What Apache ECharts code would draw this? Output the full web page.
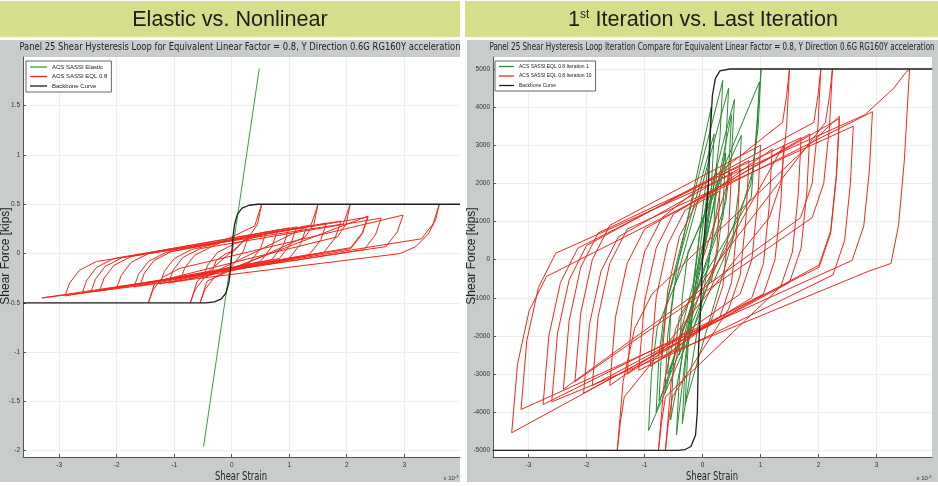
<!DOCTYPE html>
<html>
<head>
<meta charset="utf-8">
<script src="https://cdn.jsdelivr.net/npm/echarts@6.0.0/dist/echarts.min.js"></script>
<style>
  html, body { margin: 0; padding: 0; background: #fff; }
  #main { width: 938px; height: 486px; }
</style>
</head>
<body>
<div id="main"></div>
<script>
// ---- ticks ----
var xTicks = [-3, -2, -1, 0, 1, 2, 3];
var yTicksLeft = [-2, -1.5, -1, -0.5, 0, 0.5, 1, 1.5];
var yTicksRight = [-5000, -4000, -3000, -2000, -1000, 0, 1000, 2000, 3000, 4000, 5000];

// ---- left chart: elastic vs nonlinear (strain x10^-3, force) ----
var leftElastic = [[-0.49, -1.96], [0.48, 1.88]];

var leftEql = [
  [0, 0], [0.3, 0.19],
  [0.2, 0.02], [0.0, -0.13], [-0.5, -0.25],
  [-0.42, -0.12], [-0.25, 0.01], [0.05, 0.1], [0.8, 0.24],
  [0.7, 0.07], [0.5, -0.08], [-0.9, -0.28],
  [-0.82, -0.15], [-0.65, -0.02], [-0.35, 0.07], [0.4, 0.28], [0.52, 0.5],
  [0.45, 0.3], [0.3, 0.17], [-0.6, -0.28], [-0.72, -0.5],
  [-0.64, -0.37], [-0.47, -0.24], [-0.17, -0.15], [1.3, 0.27],
  [1.2, 0.1], [1.0, -0.05], [-1.6, -0.33],
  [-1.52, -0.2], [-1.35, -0.07], [-1.05, 0.02], [1.65, 0.31],
  [1.55, 0.14], [1.35, -0.01], [-2.0, -0.35],
  [-1.92, -0.22], [-1.75, -0.09], [-1.45, 0.0], [2.37, 0.37],
  [2.27, 0.2], [2.07, 0.05], [-2.6, -0.4],
  [-2.52, -0.27], [-2.35, -0.14], [-2.05, -0.05], [1.13, 0.27],
  [1.03, 0.1], [0.83, -0.05], [-1.33, -0.28], [-1.45, -0.5],
  [-1.37, -0.37], [-1.2, -0.24], [-0.9, -0.15], [2.98, 0.39],
  [2.88, 0.22], [2.68, 0.07], [-3.3, -0.45],
  [2.93, 0.0], [3.2, 0.07], [3.42, 0.2], [3.55, 0.35], [3.61, 0.5],
  [3.5, 0.3], [3.3, 0.15], [-2.9, -0.43],
  [-2.82, -0.3], [-2.65, -0.17], [-2.35, -0.08], [1.94, 0.3], [2.06, 0.5],
  [1.99, 0.3], [1.84, 0.17], [-1.7, -0.34],
  [-1.62, -0.21], [-1.45, -0.08], [-1.15, 0.01], [1.38, 0.29], [1.5, 0.5],
  [1.43, 0.3], [1.28, 0.17], [-0.43, -0.28], [-0.55, -0.5],
  [-0.47, -0.37], [-0.3, -0.24], [0.0, -0.15], [2.37, 0.38],
  [2.27, 0.21], [2.07, 0.06], [-2.3, -0.38],
  [-2.22, -0.25], [-2.05, -0.12], [-1.75, -0.03], [1.9, 0.33],
  [1.8, 0.16], [1.6, 0.01], [-1.1, -0.3],
  [-1.02, -0.17], [-0.85, -0.04], [-0.55, 0.05], [2.6, 0.36],
  [2.5, 0.19], [2.3, 0.04], [-2.45, -0.39],
  [-2.37, -0.26], [-2.2, -0.13], [-1.9, -0.04], [1.0, 0.26],
  [0.9, 0.09], [0.7, -0.06], [-1.25, -0.31],
  [-1.17, -0.18], [-1.0, -0.05], [-0.7, 0.04], [0.6, 0.22],
  [0.5, 0.05], [0.3, -0.1], [-0.35, -0.2],
  [-0.27, -0.07], [-0.1, 0.0], [0, 0.02]
];

var leftBackbone = [
  [-3.63, -0.5], [-0.45, -0.5], [-0.3, -0.49], [-0.18, -0.46], [-0.1, -0.4],
  [-0.05, -0.3], [-0.02, -0.16], [0, 0], [0.02, 0.16], [0.05, 0.3], [0.1, 0.4],
  [0.18, 0.46], [0.3, 0.49], [0.45, 0.5], [3.97, 0.5]
];

// ---- right chart: iteration 1 vs iteration 10 ----
var rightIter1 = [
  [0, 0], [0.25, 2500],
  [0.2, 1000], [0.1, -200], [-0.4, -2500],
  [-0.35, -1000], [-0.25, 200], [0.67, 3260],
  [0.62, 1760], [0.52, 560], [-0.93, -4480],
  [-0.88, -2980], [-0.78, -1780], [0.98, 4660],
  [0.93, 3160], [0.83, 1960], [-0.75, -3700],
  [-0.7, -2200], [-0.6, -1000], [0.35, 4700],
  [0.3, 3200], [0.2, 2000], [-0.55, -4200],
  [-0.5, -2700], [-0.4, -1500], [0.84, 1630], [1.01, 5000],
  [0.96, 3500], [0.86, 2300], [-0.3, -3800],
  [-0.25, -2300], [-0.15, -1100], [0.5, 3800],
  [0.45, 2300], [0.35, 1100], [-0.6, -3000],
  [-0.55, -1500], [-0.45, -300], [0.15, 4000],
  [0.1, 2500], [0, 1300], [-0.45, -4600],
  [-0.4, -3100], [-0.3, -1900], [0.4, 2800],
  [0.35, 1300], [0.25, 100], [-0.2, -2000],
  [-0.15, -500], [-0.05, 700], [0.55, 4200],
  [0.5, 2700], [0.4, 1500], [-0.8, -4000],
  [-0.75, -2500], [-0.65, -1300], [0.2, 3300],
  [0.15, 1800], [0.05, 600], [-0.65, -3500],
  [-0.6, -2000], [-0.5, -800], [0.45, 4500],
  [0.4, 3000], [0.3, 1800], [-0.35, -4300],
  [-0.3, -2800], [-0.2, -1600], [0.1, 2000],
  [0.05, 500], [0, 0]
];

var rightIter10 = [
  [0, 0], [0.5, 2300],
  [0.45, 800], [0.35, -700], [0.15, -1600], [-0.7, -2600],
  [-0.6, -800], [-0.4, 600], [-0.1, 1500], [1.2, 2900],
  [1.15, 1400], [1.05, -100], [0.85, -1000], [-1.3, -3000],
  [-1.2, -1200], [-1.0, 200], [-0.7, 1100], [1.38, 3600], [1.45, 4300], [1.5, 5000],
  [1.45, 3500], [1.35, 2000], [1.15, 1100], [-1.35, -3600], [-1.42, -4300], [-1.47, -5000],
  [-1.37, -3200], [-1.17, -1800], [-0.87, -900], [2.36, 3760],
  [2.31, 2260], [2.21, 760], [2.01, -140], [-3.29, -4540],
  [-3.19, -2740], [-2.99, -1340], [-2.69, -440], [2.93, 3880],
  [2.88, 2380], [2.78, 880], [2.58, -20], [-3.13, -3930],
  [-3.03, -2130], [-2.83, -730], [-2.53, 170], [2.8, 3800], [3.3, 4500], [3.5, 4900], [3.57, 5000],
  [3.48, 2600], [3.38, 900], [3.25, -100], [2.87, -300], [-2.6, -3730],
  [-2.5, -1930], [-2.3, -530], [-2.0, 370], [1.92, 3600], [1.99, 4300], [2.04, 5000],
  [1.99, 3500], [1.89, 2000], [1.69, 1100], [-2.4, -3400],
  [-2.3, -1600], [-2.1, -200], [-1.8, 700], [1.7, 3200],
  [1.65, 1700], [1.55, 200], [1.35, -700], [-0.64, -3600], [-0.71, -4300], [-0.76, -5000],
  [-0.66, -3200], [-0.46, -1800], [-0.16, -900], [2.12, 3600], [2.19, 4300], [2.24, 5000],
  [2.19, 3500], [2.09, 2000], [1.89, 1100], [-2.2, -3200],
  [-2.1, -1400], [-1.9, 0], [-1.6, 900], [1.0, 3000],
  [0.95, 1500], [0.85, 0], [0.65, -900], [-1.6, -3300],
  [-1.5, -1500], [-1.3, -100], [-1.0, 800], [2.36, 3700],
  [2.31, 2200], [2.21, 700], [2.01, -200], [-2.75, -3800],
  [-2.65, -2000], [-2.45, -600], [-2.15, 300], [0.8, 2600],
  [0.75, 1100], [0.65, -400], [0.45, -1300], [-0.52, -3600], [-0.59, -4300], [-0.64, -5000],
  [-0.54, -3200], [-0.34, -1800], [-0.04, -900], [1.4, 3000],
  [1.35, 1500], [1.25, 0], [1.05, -900], [-1.9, -3300],
  [-1.8, -1500], [-1.6, -100], [-1.3, 800], [2.6, 3500],
  [2.55, 2000], [2.45, 500], [2.25, -400], [-1.1, -2900],
  [-1.0, -1100], [-0.8, 300], [-0.5, 1200], [1.85, 3300],
  [1.8, 1800], [1.7, 300], [1.5, -600], [-2.05, -3500],
  [-1.95, -1700], [-1.75, -300], [-1.45, 600], [0.65, 2400],
  [0.6, 900], [0.5, -600], [0.3, -1500], [-0.9, -2800],
  [-0.8, -1000], [-0.6, 400], [-0.3, 1300], [0.3, 1800],
  [0.25, 300], [0.15, -600]
];

var rightBackbone = [
  [-3.62, -5000], [-0.42, -5000], [-0.3, -4980], [-0.2, -4900], [-0.12, -4600],
  [-0.09, -4000], [-0.07, -2400], [-0.04, -1500], [0, 0], [0.05, 1000], [0.1, 1900],
  [0.14, 3500], [0.17, 4300], [0.22, 4750], [0.3, 4950], [0.47, 5000], [3.96, 5000]
];

var RED = '#f2281c';
var GREEN = '#3d9c45';
var DARKGREEN = '#2c8a34';
var BLACK = '#1e1e1e';
var NARROW = '"Liberation Sans Narrow", "DejaVu Sans Condensed", "Liberation Sans", sans-serif';
var SANS = '"Liberation Sans", Arial, sans-serif';

function plainNumber(v) { return String(v); }

function xAxisOf(gridIndex, min, max) {
  return {
    type: 'value', gridIndex: gridIndex, min: min, max: max,
    axisLine: { show: true, onZero: false, lineStyle: { color: '#555', width: 1 } },
    axisTick: { inside: true, length: 3, customValues: xTicks, lineStyle: { color: '#555' } },
    axisLabel: { customValues: xTicks, formatter: plainNumber, fontSize: 6.5, color: '#333', margin: 5, fontFamily: SANS },
    splitLine: { show: true, lineStyle: { color: '#ededed', width: 1 } }
  };
}
function yAxisOf(gridIndex, min, max, ticks) {
  return {
    type: 'value', gridIndex: gridIndex, min: min, max: max,
    axisLine: { show: true, onZero: false, lineStyle: { color: '#555', width: 1 } },
    axisTick: { inside: true, length: 3, customValues: ticks, lineStyle: { color: '#555' } },
    axisLabel: { customValues: ticks, formatter: plainNumber, fontSize: 6.5, color: '#333', margin: 3, fontFamily: SANS },
    splitLine: { show: true, lineStyle: { color: '#ededed', width: 1 } }
  };
}
function lineOf(name, data, color, width, axisIndex, z) {
  return {
    name: name, type: 'line', data: data,
    xAxisIndex: axisIndex, yAxisIndex: axisIndex,
    symbol: 'none', showSymbol: false, clip: true, silent: true, z: z,
    lineStyle: { color: color, width: width },
    itemStyle: { color: color }
  };
}
function legendOf(left, names, fontSize, itemWidth, gap) {
  return {
    left: left, top: 61, orient: 'vertical', data: names, icon: 'rect',
    selectedMode: false, itemWidth: itemWidth, itemHeight: 1.3, itemGap: gap,
    padding: [3, 4], backgroundColor: '#fff', borderColor: '#666', borderWidth: 1,
    textStyle: { fontSize: fontSize, color: '#222', fontFamily: SANS }
  };
}

var chart = echarts.init(document.getElementById('main'), null, { renderer: 'canvas' });

chart.setOption({
  animation: false,
  backgroundColor: '#fff',
  graphic: [
    // headers
    { type: 'rect', shape: { x: 0, y: 1, width: 460, height: 36 }, style: { fill: '#d6de8c' }, z: -10 },
    { type: 'rect', shape: { x: 465, y: 1, width: 473, height: 36 }, style: { fill: '#d6de8c' }, z: -10 },
    { type: 'text', x: 230, y: 20, style: { text: 'Elastic vs. Nonlinear', font: '21.6px ' + SANS, fill: '#1c1c1c', align: 'center', verticalAlign: 'middle' } },
    { type: 'text', x: 703, y: 20, style: {
        text: '{n|1}{s|st}{n| Iteration vs. Last Iteration}', align: 'center', verticalAlign: 'middle',
        rich: { n: { fontSize: 21.6, fontFamily: SANS, fill: '#1c1c1c' }, s: { fontSize: 12, fontFamily: SANS, fill: '#1c1c1c', verticalAlign: 'top', padding: [0, 0, 8, 0] } }
      } },
    // figure backgrounds
    { type: 'rect', shape: { x: 0, y: 40, width: 460, height: 442 }, style: { fill: '#c9cccc' }, z: -10 },
    { type: 'rect', shape: { x: 467, y: 40, width: 471, height: 442 }, style: { fill: '#c9cccc' }, z: -10 },
    // figure titles
    { type: 'text', x: 240, y: 47, scaleX: 0.85, style: { text: 'Panel 25 Shear Hysteresis Loop for Equivalent Linear Factor = 0.8, Y Direction 0.6G RG160Y acceleration', font: '11px ' + NARROW, fill: '#222', align: 'center', verticalAlign: 'middle' } },
    { type: 'text', x: 712, y: 47, scaleX: 0.8, style: { text: 'Panel 25 Shear Hysteresis Loop Iteration Compare for Equivalent Linear Factor = 0.8, Y Direction 0.6G RG160Y acceleration', font: '10px ' + NARROW, fill: '#222', align: 'center', verticalAlign: 'middle' } },
    // axis names
    { type: 'text', x: 241, y: 477, scaleX: 0.78, style: { text: 'Shear Strain', font: '12px ' + NARROW, fill: '#222', align: 'center', verticalAlign: 'middle' } },
    { type: 'text', x: 712, y: 477, scaleX: 0.78, style: { text: 'Shear Strain', font: '12px ' + NARROW, fill: '#222', align: 'center', verticalAlign: 'middle' } },
    { type: 'text', x: 5.5, y: 256, rotation: Math.PI / 2, style: { text: 'Shear Force [kips]', font: '12px ' + SANS, fill: '#222', align: 'center', verticalAlign: 'middle' } },
    { type: 'text', x: 472, y: 256, rotation: Math.PI / 2, style: { text: 'Shear Force [kips]', font: '12px ' + SANS, fill: '#222', align: 'center', verticalAlign: 'middle' } },
    // exponent markers
    { type: 'text', x: 451, y: 478, style: { text: '{a|x 10}{b|-3}', align: 'center', verticalAlign: 'middle', rich: { a: { fontSize: 6, fontFamily: SANS, fill: '#333' }, b: { fontSize: 4, fontFamily: SANS, fill: '#333', verticalAlign: 'top' } } } },
    { type: 'text', x: 924, y: 478, style: { text: '{a|x 10}{b|-3}', align: 'center', verticalAlign: 'middle', rich: { a: { fontSize: 6, fontFamily: SANS, fill: '#333' }, b: { fontSize: 4, fontFamily: SANS, fill: '#333', verticalAlign: 'top' } } } }
  ],
  grid: [
    { left: 23, top: 57, width: 437, height: 400, show: true, backgroundColor: '#fff', borderWidth: 0, containLabel: false },
    { left: 493, top: 57, width: 439, height: 400, show: true, backgroundColor: '#fff', borderWidth: 0, containLabel: false }
  ],
  xAxis: [xAxisOf(0, -3.63, 3.97), xAxisOf(1, -3.613, 3.957)],
  yAxis: [yAxisOf(0, -2.064, 1.994, yTicksLeft), yAxisOf(1, -5176, 5315, yTicksRight)],
  legend: [
    legendOf(26, ['ACS SASSI Elastic', 'ACS SASSI EQL 0.8', 'Backbone Curve'], 6, 17, 3.5),
    legendOf(495, ['ACS SASSI EQL 0.8 Iteration 1', 'ACS SASSI EQL 0.8 Iteration 10', 'Backbone Curve'], 5, 15, 4.5)
  ],
  series: [
    lineOf('ACS SASSI Elastic', leftElastic, GREEN, 1, 0, 2),
    lineOf('ACS SASSI EQL 0.8', leftEql, RED, 1, 0, 3),
    lineOf('Backbone Curve', leftBackbone, BLACK, 1.3, 0, 4),
    lineOf('ACS SASSI EQL 0.8 Iteration 1', rightIter1, DARKGREEN, 1, 1, 2),
    lineOf('ACS SASSI EQL 0.8 Iteration 10', rightIter10, RED, 1, 1, 3),
    lineOf('Backbone Curve', rightBackbone, BLACK, 1.3, 1, 4)
  ]
});
</script>
</body>
</html>
